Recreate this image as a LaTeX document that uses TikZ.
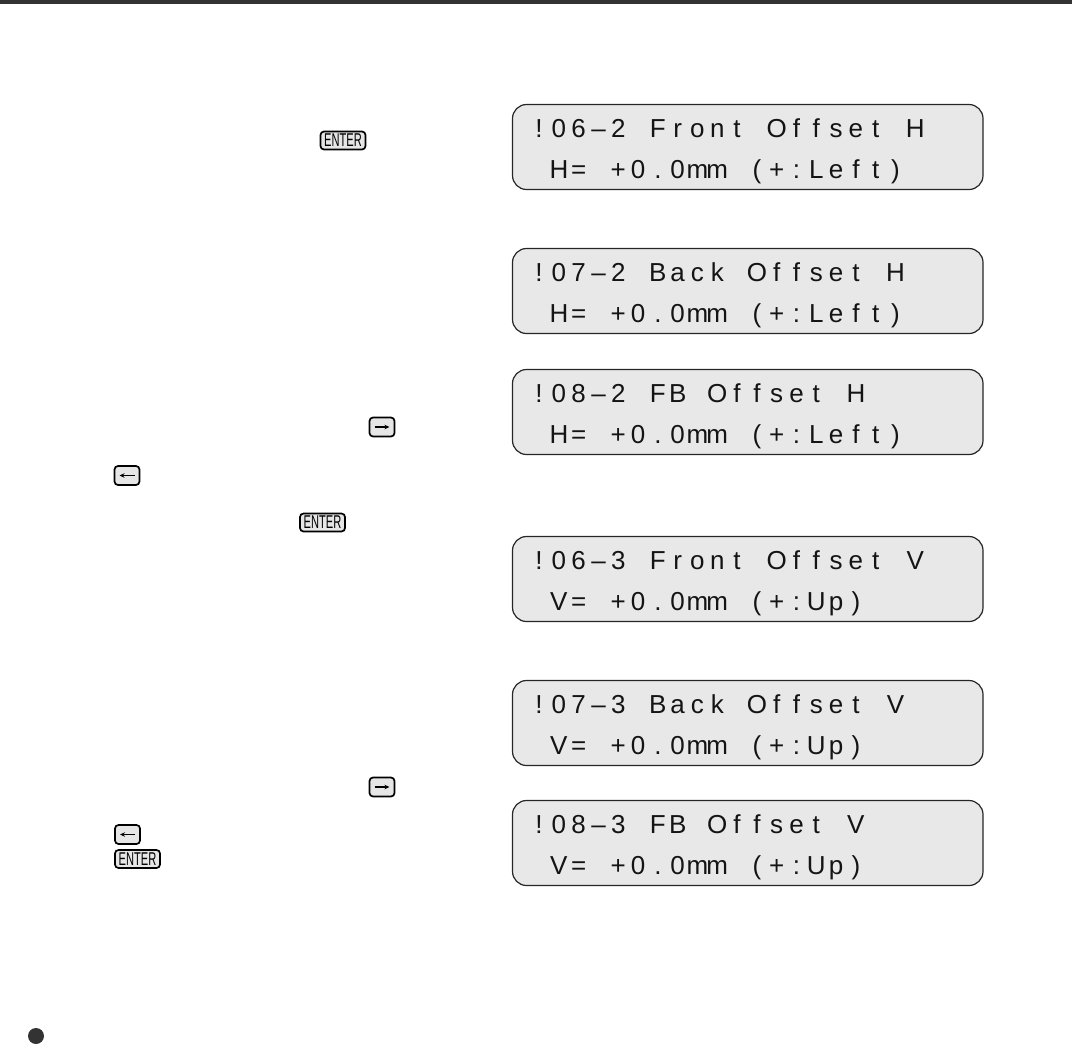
\documentclass[tikz,border=0pt]{standalone}
\usepackage{fontspec}
\setmainfont{Liberation Sans}
\usepackage{graphicx}
\usetikzlibrary{arrows.meta}
\definecolor{lcdfill}{HTML}{E8E8E8}
\definecolor{keyfill}{HTML}{E6E6E6}
\definecolor{barcol}{HTML}{333333}
\definecolor{inkcol}{HTML}{141414}
\ExplSyntaxOn
\NewDocumentCommand\lcdline{m}{
  \str_map_inline:nn {#1} {
    \str_if_eq:nnTF {##1} {_} {\makebox[19.8pt]{}} {\makebox[19.8pt][c]{##1}}
  }
}
\ExplSyntaxOff
\begin{document}
\begin{tikzpicture}[x=1pt,y=-1pt,
  lcd/.style={draw=black!85, line width=1.2pt, fill=lcdfill, rounded corners=14pt,
    minimum width=470.5pt, minimum height=85pt, inner sep=0pt},
  lcdtext/.style={anchor=base west, inner sep=0pt, text=inkcol,
    font=\fontsize{26}{30}\selectfont},
  keybox/.style={draw=black, line width=1.7pt, fill=keyfill, rounded corners=3.5pt, inner sep=0pt},
  enterkey/.style={keybox, minimum width=45pt, minimum height=18pt,
    font=\fontsize{18.5}{18.5}\selectfont},
  arrowkey/.style={keybox, minimum width=25pt, minimum height=19pt},
  keyarrow/.style={line width=1.2pt, -{Stealth[length=5pt,width=4.5pt]}}
]
\useasboundingbox (0,0) rectangle (1072,1045);
\fill[barcol] (0,0) rectangle (1072,4);

% LCD displays
\node[lcd] (d1) at (747.75,147) {};
\node[lcdtext] (d1a) at (529,137.5) {\lcdline{!06–2 Front Offset H}};
\node[lcdtext] (d1b) at (529,178.5) {\lcdline{_H= +0.0mm (+:Left)}};

\node[lcd] (d2) at (747.75,291) {};
\node[lcdtext] (d2a) at (529,281.5) {\lcdline{!07–2 Back Offset H}};
\node[lcdtext] (d2b) at (529,322.5) {\lcdline{_H= +0.0mm (+:Left)}};

\node[lcd] (d3) at (747.75,412) {};
\node[lcdtext] (d3a) at (529,402.5) {\lcdline{!08–2 FB Offset H}};
\node[lcdtext] (d3b) at (529,443.5) {\lcdline{_H= +0.0mm (+:Left)}};

\node[lcd] (d4) at (747.75,579) {};
\node[lcdtext] (d4a) at (529,569.5) {\lcdline{!06–3 Front Offset V}};
\node[lcdtext] (d4b) at (529,610.5) {\lcdline{_V= +0.0mm (+:Up)}};

\node[lcd] (d5) at (747.75,723) {};
\node[lcdtext] (d5a) at (529,713.5) {\lcdline{!07–3 Back Offset V}};
\node[lcdtext] (d5b) at (529,754.5) {\lcdline{_V= +0.0mm (+:Up)}};

\node[lcd] (d6) at (747.75,843) {};
\node[lcdtext] (d6a) at (529,833.5) {\lcdline{!08–3 FB Offset V}};
\node[lcdtext] (d6b) at (529,874.5) {\lcdline{_V= +0.0mm (+:Up)}};

% keys
\node[enterkey] (e1) at (343,140.5) {\scalebox{0.6}[1]{ENTER}};
\node[arrowkey] (r1) at (382,427) {};
\draw[keyarrow] ([xshift=-7.5pt]r1.center) -- ([xshift=7.5pt]r1.center);
\node[arrowkey] (l1) at (127,475.5) {};
\draw[keyarrow] ([xshift=7.5pt]l1.center) -- ([xshift=-7.5pt]l1.center);
\node[enterkey] (e2) at (322.5,522.5) {\scalebox{0.6}[1]{ENTER}};

\node[arrowkey] (r2) at (382,787) {};
\draw[keyarrow] ([xshift=-7.5pt]r2.center) -- ([xshift=7.5pt]r2.center);
\node[arrowkey] (l2) at (127.5,834.5) {};
\draw[keyarrow] ([xshift=7.5pt]l2.center) -- ([xshift=-7.5pt]l2.center);
\node[enterkey] (e3) at (137.5,859) {\scalebox{0.6}[1]{ENTER}};

% bullet
\node[circle, fill=barcol, minimum size=16pt, inner sep=0pt] (bul) at (36,1036) {};
\end{tikzpicture}
\end{document}
